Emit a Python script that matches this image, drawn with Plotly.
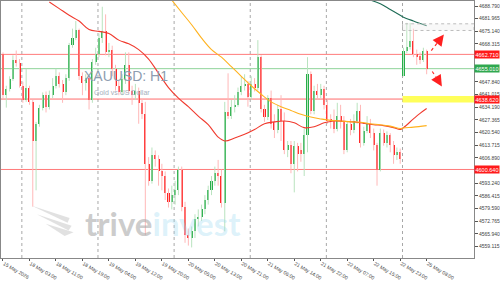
import plotly.graph_objects as go

# ---------------- data (XAUUSD H1) ----------------
open_ = [4662.7, 4640.7, 4644.3, 4649.4, 4659.7, 4658.1, 4645.8, 4638.1, 4644.8, 4637.1,
         4616.0, 4625.3, 4634.0, 4640.7, 4634.5, 4640.7, 4645.8, 4650.9, 4646.8, 4642.2,
         4649.9, 4667.9, 4671.5, 4675.6, 4650.9, 4647.4, 4649.9, 4638.1, 4658.6, 4662.7,
         4671.5, 4675.1, 4663.8, 4665.3, 4655.0, 4645.8, 4642.2, 4649.4, 4657.1, 4643.2,
         4640.7, 4643.2, 4636.6, 4630.4, 4603.7, 4594.5, 4608.3, 4606.3, 4599.6, 4597.1,
         4587.8, 4583.2, 4586.8, 4589.4, 4600.6, 4580.6, 4565.2, 4563.7, 4567.3, 4574.0,
         4575.0, 4579.1, 4584.2, 4589.4, 4594.5, 4598.6, 4597.1, 4582.7, 4631.4, 4629.4,
         4634.5, 4635.5, 4642.2, 4645.8, 4646.8, 4639.7, 4646.8, 4644.8, 4661.2, 4633.0,
         4628.9, 4639.1, 4626.3, 4621.7, 4633.0, 4626.8, 4611.4, 4614.0, 4603.7, 4613.5,
         4610.9, 4608.9, 4619.1, 4652.0, 4632.0, 4643.2, 4640.7, 4644.3, 4635.5, 4627.9,
         4626.8, 4622.7, 4629.4, 4626.3, 4611.4, 4625.3, 4621.7, 4626.8, 4632.0, 4615.0,
         4621.2, 4625.3, 4620.2, 4614.0, 4600.6, 4620.2, 4615.0, 4619.1, 4614.0, 4608.3,
         4609.9, 4650.9, 4664.8, 4666.9, 4669.9, 4662.7, 4661.7, 4659.7, 4664.8]
high = [4663.8, 4645.8, 4650.9, 4662.2, 4664.8, 4660.2, 4647.9, 4655.0, 4645.8, 4638.1,
        4626.3, 4635.5, 4642.2, 4642.7, 4643.2, 4649.9, 4655.0, 4653.0, 4648.9, 4652.0,
        4668.9, 4676.6, 4680.7, 4676.6, 4653.0, 4652.0, 4650.9, 4660.2, 4666.3, 4674.0,
        4688.4, 4684.3, 4668.9, 4667.4, 4657.1, 4648.4, 4652.0, 4663.8, 4663.8, 4645.8,
        4646.8, 4644.8, 4638.6, 4637.1, 4607.3, 4612.5, 4610.9, 4608.3, 4603.7, 4599.6,
        4590.4, 4591.9, 4594.5, 4602.2, 4602.2, 4583.2, 4568.8, 4569.9, 4576.5, 4579.1,
        4581.7, 4586.8, 4591.9, 4597.1, 4602.2, 4605.8, 4600.6, 4637.1, 4652.5, 4638.1,
        4640.7, 4644.8, 4650.9, 4652.0, 4648.4, 4650.9, 4649.9, 4670.4, 4662.2, 4635.5,
        4640.7, 4643.2, 4630.4, 4635.5, 4640.7, 4631.4, 4616.0, 4616.0, 4616.0, 4615.0,
        4615.0, 4622.7, 4661.2, 4653.5, 4645.8, 4646.8, 4646.8, 4645.8, 4638.1, 4630.4,
        4633.0, 4636.6, 4635.5, 4629.4, 4626.3, 4627.9, 4630.4, 4636.6, 4635.5, 4623.7,
        4629.4, 4627.9, 4622.7, 4615.0, 4622.7, 4622.2, 4621.2, 4620.2, 4616.0, 4612.5,
        4611.9, 4666.3, 4679.7, 4679.7, 4676.6, 4665.3, 4663.8, 4666.3, 4665.3]
low = [4638.6, 4634.0, 4642.7, 4648.4, 4656.1, 4644.8, 4636.6, 4637.1, 4635.5, 4580.6,
       4589.4, 4623.7, 4632.5, 4631.4, 4633.0, 4639.1, 4644.3, 4644.8, 4636.6, 4640.7,
       4648.4, 4666.3, 4670.4, 4648.9, 4640.7, 4643.2, 4633.0, 4636.6, 4657.1, 4661.2,
       4668.9, 4662.2, 4661.2, 4650.9, 4643.2, 4640.7, 4640.7, 4646.8, 4641.7, 4635.5,
       4638.1, 4625.3, 4627.9, 4565.2, 4591.9, 4593.0, 4602.2, 4591.9, 4589.4, 4584.2,
       4580.1, 4579.1, 4581.7, 4586.8, 4578.1, 4561.1, 4559.6, 4558.6, 4563.7, 4569.9,
       4572.9, 4576.5, 4581.7, 4586.8, 4591.9, 4591.9, 4580.1, 4567.3, 4627.9, 4627.9,
       4631.4, 4634.5, 4640.7, 4643.2, 4634.5, 4638.1, 4642.7, 4643.2, 4631.4, 4626.3,
       4627.3, 4622.7, 4617.6, 4620.2, 4616.0, 4608.9, 4607.3, 4598.6, 4588.3, 4599.6,
       4604.8, 4597.1, 4609.9, 4630.4, 4630.4, 4638.1, 4639.1, 4633.0, 4625.3, 4622.7,
       4620.2, 4621.2, 4622.7, 4608.9, 4609.9, 4619.1, 4620.2, 4625.3, 4612.5, 4613.5,
       4620.2, 4617.6, 4610.9, 4591.9, 4599.6, 4613.5, 4612.5, 4609.9, 4603.7, 4605.8,
       4603.7, 4650.9, 4663.3, 4665.3, 4661.2, 4657.1, 4657.6, 4658.6, 4652.0]
close = [4640.7, 4644.3, 4649.4, 4659.7, 4658.1, 4645.8, 4638.1, 4644.8, 4637.1, 4616.0,
         4625.3, 4634.0, 4640.7, 4634.5, 4640.7, 4645.8, 4650.9, 4646.8, 4642.2, 4649.9,
         4667.9, 4671.5, 4675.6, 4650.9, 4647.4, 4649.9, 4638.1, 4658.6, 4662.7, 4671.5,
         4675.1, 4663.8, 4665.3, 4655.0, 4645.8, 4642.2, 4649.4, 4657.1, 4643.2, 4640.7,
         4643.2, 4636.6, 4630.4, 4603.7, 4594.5, 4608.3, 4606.3, 4599.6, 4597.1, 4587.8,
         4583.2, 4586.8, 4589.4, 4600.6, 4580.6, 4565.2, 4563.7, 4567.3, 4574.0, 4575.0,
         4579.1, 4584.2, 4589.4, 4594.5, 4598.6, 4597.1, 4582.7, 4631.4, 4629.4, 4634.5,
         4635.5, 4642.2, 4645.8, 4646.8, 4639.7, 4646.8, 4644.8, 4661.2, 4633.0, 4628.9,
         4639.1, 4625.3, 4621.7, 4633.0, 4626.8, 4611.4, 4614.0, 4603.7, 4613.5, 4608.9,
         4608.9, 4619.1, 4652.0, 4632.0, 4643.2, 4640.7, 4644.3, 4635.5, 4626.8, 4626.8,
         4622.7, 4629.4, 4626.3, 4611.4, 4625.3, 4621.7, 4626.8, 4632.0, 4615.0, 4621.2,
         4625.3, 4620.2, 4614.0, 4600.6, 4620.2, 4615.0, 4619.1, 4614.0, 4608.3, 4609.9,
         4606.3, 4664.8, 4666.9, 4669.9, 4662.7, 4661.2, 4659.7, 4664.8, 4655.0]
bar_idx = list(range(len(close)))

# moving averages (sampled at bar indices)
ma_red_idx = [14, 17, 20, 23, 26, 29, 32, 35, 38, 41, 44, 47, 50, 53, 56, 59, 62, 65, 67, 70,
              73, 76, 79, 82, 85, 88, 91, 94, 97, 100, 103, 106, 109, 112, 115, 118, 120, 121,
              124, 126, 128]
ma_red_val = [4691.0, 4687.4, 4683.8, 4680.7, 4676.1, 4675.1, 4674.0, 4670.4, 4668.4, 4665.3,
              4660.2, 4652.5, 4644.8, 4639.1, 4634.5, 4629.4, 4624.8, 4618.1, 4616.0, 4617.6,
              4619.6, 4622.2, 4625.3, 4626.3, 4626.8, 4625.8, 4623.2, 4623.7, 4625.8, 4626.8,
              4626.6, 4626.3, 4625.5, 4624.8, 4624.3, 4623.2, 4622.2, 4623.2, 4627.9, 4630.9,
              4633.5]
ma_orange_idx = [51, 54, 57, 60, 63, 66, 69, 72, 75, 78, 81, 84, 87, 90, 93, 96, 99, 102, 105,
                 108, 111, 114, 117, 120, 121, 124, 128]
ma_orange_val = [4692.0, 4685.3, 4678.7, 4671.5, 4665.3, 4661.2, 4656.1, 4650.9, 4645.8, 4641.2,
                 4637.1, 4634.5, 4632.5, 4630.4, 4628.9, 4627.9, 4627.1, 4626.8, 4626.3, 4626.1,
                 4625.3, 4624.8, 4624.0, 4622.7, 4623.0, 4623.5, 4624.3]
ma_green_idx = [111, 114, 117, 120, 121, 124, 128]
ma_green_val = [4692.0, 4690.0, 4686.9, 4683.8, 4682.8, 4680.7, 4678.1]

# horizontal levels
res_level = 4662.710
bid_level = 4655.010
sup_level1 = 4638.620
sup_level2 = 4600.640
zone_low, zone_high = 4636.8, 4640.2
box_low, box_high = 4675.6, 4679.2

# time axis
x_tick_idx = [0, 8, 16, 24, 32, 40, 48, 56, 64, 72, 80, 88, 96, 104, 112, 120, 128]
x_tick_labels = ["15 May 2026", "18 May 03:00", "18 May 11:00", "18 May 19:00", "19 May 04:00",
                 "19 May 12:00", "19 May 20:00", "20 May 05:00", "20 May 13:00", "20 May 21:00",
                 "21 May 06:00", "21 May 14:00", "21 May 22:00", "22 May 07:00", "22 May 15:00",
                 "22 May 23:00", "25 May 08:00"]
day_start_idx = [6, 29, 52, 75, 98, 121]

# price axis
y_tick_vals = [4559.115, 4565.940, 4572.765, 4579.590, 4586.415, 4593.240, 4606.890, 4613.715,
               4620.540, 4627.365, 4634.190, 4641.015, 4647.840, 4668.315, 4675.140, 4681.965,
               4688.790]

# ---------------- figure ----------------
GREEN = "#27ae4a"
RED = "#ff2424"
PALE_GREEN = "#b9e3bf"
PALE_RED = "#ffb8b8"

fig = go.Figure()

# wicks
for up, col in ((True, PALE_GREEN), (False, PALE_RED)):
    wx, wy = [], []
    for k, o, h, l, c in zip(bar_idx, open_, high, low, close):
        if (c >= o) == up:
            wx += [k, k, None]
            wy += [l, h, None]
    fig.add_trace(go.Scatter(x=wx, y=wy, mode="lines", line=dict(color=col, width=1),
                             hoverinfo="skip", showlegend=False))

# bodies
body_h = [max(abs(c - o), 0.4) for o, c in zip(open_, close)]
body_b = [min(o, c) for o, c in zip(open_, close)]
body_c = [GREEN if c >= o else RED for o, c in zip(open_, close)]
fig.add_trace(go.Bar(x=bar_idx, y=body_h, base=body_b, marker=dict(color=body_c, line=dict(width=0)),
                     width=0.62, showlegend=False))

# MAs
fig.add_trace(go.Scatter(x=ma_red_idx, y=ma_red_val, mode="lines", line=dict(color="#f03a2e", width=1.1, shape="spline"),
                         showlegend=False))
fig.add_trace(go.Scatter(x=ma_orange_idx, y=ma_orange_val, mode="lines", line=dict(color="#ffb21e", width=1.1, shape="spline"),
                         showlegend=False))
fig.add_trace(go.Scatter(x=ma_green_idx, y=ma_green_val, mode="lines", line=dict(color="#1d6b55", width=1.1, shape="spline"),
                         showlegend=False))

XMAX = 142.3
XMIN = -0.6
shapes = []
# yellow zone
shapes.append(dict(type="rect", xref="x", yref="y", x0=day_start_idx[-1] - 0.3, x1=XMAX, y0=zone_low, y1=zone_high,
                   fillcolor="#ffff5a", line=dict(width=0), layer="below"))
# dotted box
shapes.append(dict(type="rect", xref="x", yref="y", x0=day_start_idx[-1] - 0.3, x1=XMAX, y0=box_low, y1=box_high,
                   fillcolor="rgba(235,235,235,0.35)", line=dict(color="#bdbdbd", width=1, dash="dot")))
# day separators
for d in day_start_idx:
    shapes.append(dict(type="line", xref="x", yref="paper", x0=d - 0.3, x1=d - 0.3, y0=0, y1=1,
                       line=dict(color="#a8a8a8", width=1, dash="dot"), layer="below"))
# horizontal levels
for lv, col in ((res_level, "#ff7b7b"), (sup_level1, "#ff6a6a"), (sup_level2, "#ff7b7b"), (bid_level, "#8fd39a")):
    shapes.append(dict(type="line", xref="paper", yref="y", x0=0, x1=1, y0=lv, y1=lv,
                       line=dict(color=col, width=1), layer="below"))
# dashed arrow shafts
shapes.append(dict(type="line", xref="x", yref="y", x0=129.4, y0=4664.8, x1=132.6, y1=4672.0,
                   line=dict(color="#ff2a2a", width=1.2, dash="dot")))
shapes.append(dict(type="line", xref="x", yref="y", x0=129.7, y0=4653.5, x1=132.1, y1=4647.0,
                   line=dict(color="#ff2a2a", width=1.2, dash="dot")))


# watermark wing logo (paper coords from pixels)
def P(px, py):
    return f"{px / 476:.4f},{(271 - py) / 270:.4f}"


for pts in (((31, 216), (69, 229), (67, 234)), ((36, 225), (71, 237), (68, 242)), ((45, 235), (73, 244), (64, 248))):
    path = "M " + " L ".join(P(*p) for p in pts) + " Z"
    shapes.append(dict(type="path", xref="paper", yref="paper", path=path,
                       fillcolor="rgba(200,200,200,0.55)", line=dict(width=0)))

annotations = []
# arrowheads
annotations.append(dict(x=133.2, y=4673.4, ax=132.0, ay=4670.6, xref="x", yref="y", axref="x", ayref="y",
                        text="", showarrow=True, arrowhead=2, arrowsize=1.4, arrowwidth=1.6, arrowcolor="#ff2020"))
annotations.append(dict(x=132.6, y=4645.4, ax=131.6, ay=4648.3, xref="x", yref="y", axref="x", ayref="y",
                        text="", showarrow=True, arrowhead=2, arrowsize=1.4, arrowwidth=1.6, arrowcolor="#ff2020"))
# price labels on the axis
for lv, bg in ((res_level, "#ff1a1a"), (bid_level, "#2fa84f"), (sup_level1, "#ff1a1a"), (sup_level2, "#ff1a1a")):
    annotations.append(dict(x=1.0, y=lv, xref="paper", yref="y", xanchor="left", yanchor="middle",
                            text=f"{lv:.3f}", showarrow=False, bgcolor=bg, borderpad=0.5,
                            font=dict(size=5.5, color="white", family="Liberation Sans")))
# symbol title
annotations.append(dict(x=82 / 476, y=(271 - 80) / 270, xref="paper", yref="paper", xanchor="left", yanchor="middle",
                        text="XAUUSD: H1", showarrow=False,
                        font=dict(size=14, color="#8d9cb0", family="Liberation Sans")))
annotations.append(dict(x=92 / 476, y=(271 - 97) / 270, xref="paper", yref="paper", xanchor="left", yanchor="middle",
                        text="Gold vs US Dollar", showarrow=False,
                        font=dict(size=7, color="#a5afbc", family="Liberation Sans")))
# watermark
annotations.append(dict(x=163 / 476, y=(271 - 234) / 270, xref="paper", yref="paper", xanchor="center", yanchor="middle",
                        text="trive<span style='color:rgba(150,215,240,0.55)'>invest</span>", showarrow=False,
                        font=dict(size=33, color="rgba(170,170,170,0.6)", family="Lato", weight="bold")))

fig.update_layout(
    width=500, height=281,
    margin=dict(l=0, r=24, t=1, b=10),
    paper_bgcolor="white", plot_bgcolor="white",
    shapes=shapes, annotations=annotations,
    showlegend=False, bargap=0,
    xaxis=dict(range=[XMIN, XMAX], showgrid=False, zeroline=False,
               tickmode="array", tickvals=x_tick_idx, ticktext=x_tick_labels,
               ticks="outside", ticklen=2, tickcolor="#555", ticklabelposition="outside right",
               tickfont=dict(size=5, color="#444", family="Liberation Sans"),
               showline=True, linecolor="#888", linewidth=1, mirror=True, fixedrange=True),
    yaxis=dict(range=[4552.9, 4691.5], side="right", showgrid=False, zeroline=False,
               tickmode="array", tickvals=y_tick_vals, ticktext=[f"{v:.3f}" for v in y_tick_vals],
               ticks="outside", ticklen=3, tickcolor="#555",
               tickfont=dict(size=5, color="#444", family="Liberation Sans"),
               showline=True, linecolor="#888", linewidth=1, mirror=True, fixedrange=True),
)

fig.write_html("out.html")
